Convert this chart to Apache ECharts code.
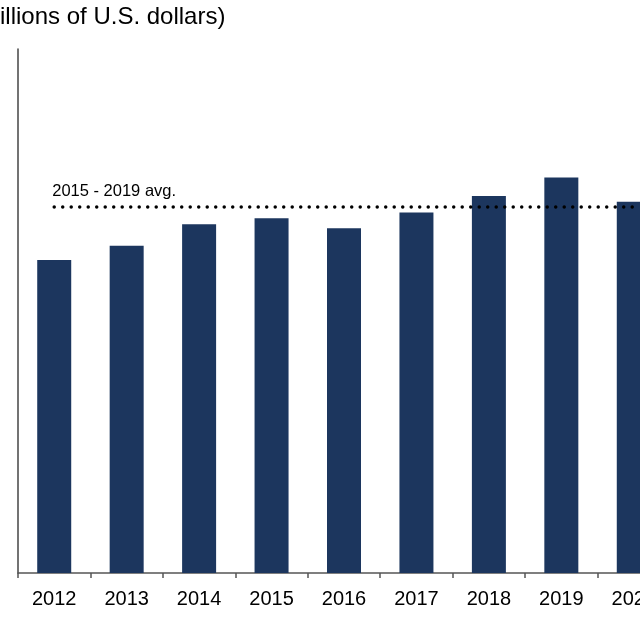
<!DOCTYPE html>
<html>
<head>
<meta charset="utf-8">
<script src="https://cdn.jsdelivr.net/npm/echarts@6/dist/echarts.min.js"></script>
<style>
  html, body { margin: 0; padding: 0; background: #fff; overflow: hidden; }
  #wrap { width: 640px; height: 640px; overflow: hidden; position: relative; }
  #chart { width: 700px; height: 640px; position: absolute; left: 0; top: 0; }
</style>
</head>
<body>
<div id="wrap"><div id="chart"></div></div>
<script>
var years = ['2012', '2013', '2014', '2015', '2016', '2017', '2018', '2019', '2020'];
var values = [83.6, 87.4, 93.2, 94.8, 92.1, 96.3, 100.7, 105.7, 99.2];
var avgFrom = '2015', avgTo = '2019';
var titleText = 'illions of U.S. dollars)';

// average over the chosen year range
var i0 = years.indexOf(avgFrom), i1 = years.indexOf(avgTo);
var sum = 0;
for (var i = i0; i <= i1; i++) sum += values[i];
var avg = sum / (i1 - i0 + 1);

var chart = echarts.init(document.getElementById('chart'));

var option = {
    animation: false,
    textStyle: { fontFamily: 'Liberation Sans, Arial, sans-serif' },
    title: {
        text: titleText,
        left: 0,
        top: 5,
        padding: 0,
        textStyle: {
            fontFamily: 'Liberation Sans, Arial, sans-serif',
            fontSize: 24,
            fontWeight: 'normal',
            color: '#000'
        }
    },
    grid: {
        left: 18,
        top: 49,
        right: 30,
        bottom: 67
    },
    xAxis: {
        type: 'category',
        data: years,
        axisLine: { lineStyle: { color: '#555', width: 1.5 } },
        axisTick: { show: true, length: 5, lineStyle: { color: '#555', width: 1.5 } },
        axisLabel: {
            color: '#000',
            fontSize: 20,
            margin: 16,
            fontFamily: 'Liberation Sans, Arial, sans-serif'
        }
    },
    yAxis: {
        type: 'value',
        min: 0,
        max: 140,
        axisLine: { show: true, lineStyle: { color: '#444', width: 1.5 } },
        axisTick: { show: false },
        axisLabel: { show: false },
        splitLine: { show: false }
    },
    series: [{
        type: 'bar',
        data: values,
        barWidth: 34,
        itemStyle: { color: '#1c365e' },
        markLine: {
            silent: true,
            symbol: ['none', 'none'],
            lineStyle: {
                color: '#000',
                width: 3.5,
                type: [0, 8.5],
                cap: 'round'
            },
            label: {
                show: true,
                position: 'insideStartTop',
                formatter: avgFrom + ' - ' + avgTo + ' avg.',
                color: '#000',
                fontSize: 16.5,
                distance: [-2, 7],
                fontFamily: 'Liberation Sans, Arial, sans-serif'
            },
            data: [[
                { coord: [0, avg] },
                { coord: [years.length - 1, avg] }
            ]]
        }
    }]
};

chart.setOption(option);
</script>
</body>
</html>
